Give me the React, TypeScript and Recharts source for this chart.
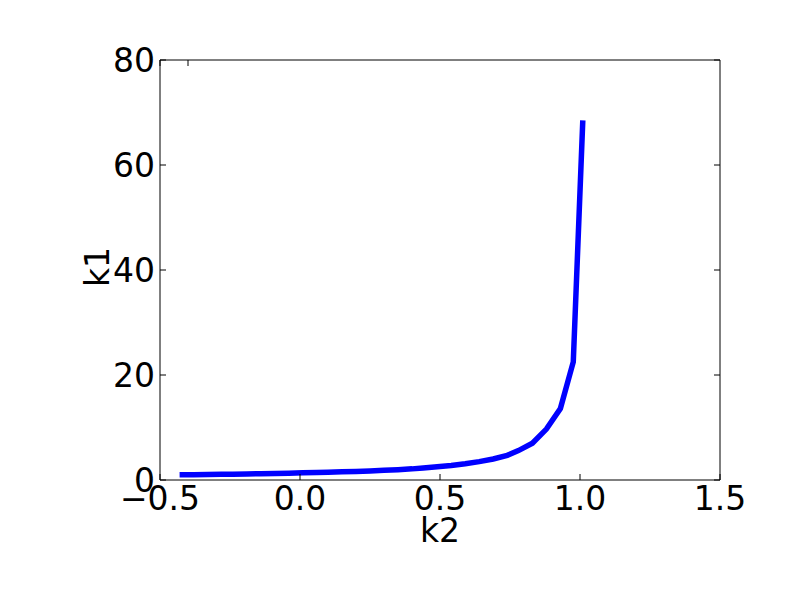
import React from 'react';
import { LineChart, Line, XAxis, YAxis } from 'recharts';

// k2 (x) and k1 (y)
const k2Values = [
    -0.43, -0.38, -0.33, -0.28, -0.24, -0.19, -0.14, -0.09, -0.04, 0.01,
    0.06, 0.1, 0.15, 0.2, 0.25, 0.3, 0.35, 0.4, 0.44, 0.49,
    0.54, 0.59, 0.64, 0.69, 0.74, 0.78, 0.83, 0.88, 0.93, 0.976, 1.01,
];
const k1Values = [
    1.0, 1.02, 1.05, 1.08, 1.11, 1.15, 1.19, 1.24, 1.3, 1.36,
    1.42, 1.49, 1.56, 1.64, 1.73, 1.84, 1.97, 2.12, 2.3, 2.52,
    2.78, 3.1, 3.5, 4.0, 4.7, 5.6, 7.0, 9.7, 13.6, 22.5, 68.5,
];

const xTicks = [-0.5, 0, 0.5, 1, 1.5];
const yTicks = [0, 20, 40, 60, 80];

const data = k2Values.map((k2, i) => ({ k2, k1: k1Values[i] }));

const font = 'DejaVu Sans, sans-serif';
const FS = 33;
const TICK_LEN = 6;
const X_GAP = 7;
const Y_GAP = 5;

const fmtX = (v: number) => {
    const s = v.toFixed(1);
    return v < 0 ? '\u2212' + s.slice(1) : s;
};

// ticks point inward, like matplotlib
const BottomTick = (props: any) => {
    const { x, y, payload } = props;
    const axisY = y - X_GAP;
    return (
        <g>
            <line x1={x} y1={axisY} x2={x} y2={axisY - TICK_LEN} stroke="#000" />
            <text x={x} y={y} dy="0.71em" textAnchor="middle" fontSize={FS} fontFamily={font} fill="#000">
                {fmtX(payload.value)}
            </text>
        </g>
    );
};

const LeftTick = (props: any) => {
    const { x, y, payload } = props;
    const axisX = x + Y_GAP;
    return (
        <g>
            <line x1={axisX} y1={y} x2={axisX + TICK_LEN} y2={y} stroke="#000" />
            <text x={x} y={y} dy="0.355em" textAnchor="end" fontSize={FS} fontFamily={font} fill="#000">
                {payload.value}
            </text>
        </g>
    );
};

const TopTick = (props: any) => {
    const { x, y } = props;
    return <line x1={x} y1={y} x2={x} y2={y + TICK_LEN} stroke="#000" />;
};

const RightTick = (props: any) => {
    const { x, y } = props;
    return <line x1={x} y1={y} x2={x - TICK_LEN} y2={y} stroke="#000" />;
};

const XLabel = () => (
    <text x={440} y={542} textAnchor="middle" fontSize={FS} fontFamily={font} fill="#000">
        k2
    </text>
);

const YLabel = () => (
    <text x={109} y={267} transform="rotate(-90, 109, 267)" textAnchor="middle" fontSize={FS} fontFamily={font} fill="#000">
        k1
    </text>
);

const App: React.FC = () => {
    return (
        <div style={{ position: 'absolute', left: 0, top: 0, width: 800, height: 600, background: '#fff' }}>
            <LineChart width={800} height={600} data={data} margin={{ top: 59, right: 79, left: 100, bottom: 50 }}>
                <XAxis
                    dataKey="k2"
                    type="number"
                    domain={[-0.5, 1.5]}
                    ticks={xTicks}
                    stroke="#000"
                    tick={<BottomTick />}
                    tickLine={false}
                    tickSize={0}
                    tickMargin={X_GAP}
                    height={70}
                    label={<XLabel />}
                    allowDataOverflow
                />
                <XAxis
                    xAxisId="top"
                    orientation="top"
                    type="number"
                    domain={[-0.5, 1.5]}
                    ticks={xTicks}
                    stroke="#000"
                    tick={<TopTick />}
                    tickLine={false}
                    tickSize={0}
                    tickMargin={0}
                    height={1}
                    allowDataOverflow
                />
                <YAxis
                    type="number"
                    domain={[0, 80]}
                    ticks={yTicks}
                    stroke="#000"
                    tick={<LeftTick />}
                    tickLine={false}
                    tickSize={0}
                    tickMargin={Y_GAP}
                    width={60}
                    label={<YLabel />}
                    allowDataOverflow
                />
                <YAxis
                    yAxisId="right"
                    orientation="right"
                    type="number"
                    domain={[0, 80]}
                    ticks={yTicks}
                    stroke="#000"
                    tick={<RightTick />}
                    tickLine={false}
                    tickSize={0}
                    tickMargin={0}
                    width={1}
                    allowDataOverflow
                />
                <Line
                    dataKey="k1"
                    type="linear"
                    stroke="#0000ff"
                    strokeWidth={5.5}
                    dot={false}
                    isAnimationActive={false}
                />
            </LineChart>
        </div>
    );
};

export default App;
